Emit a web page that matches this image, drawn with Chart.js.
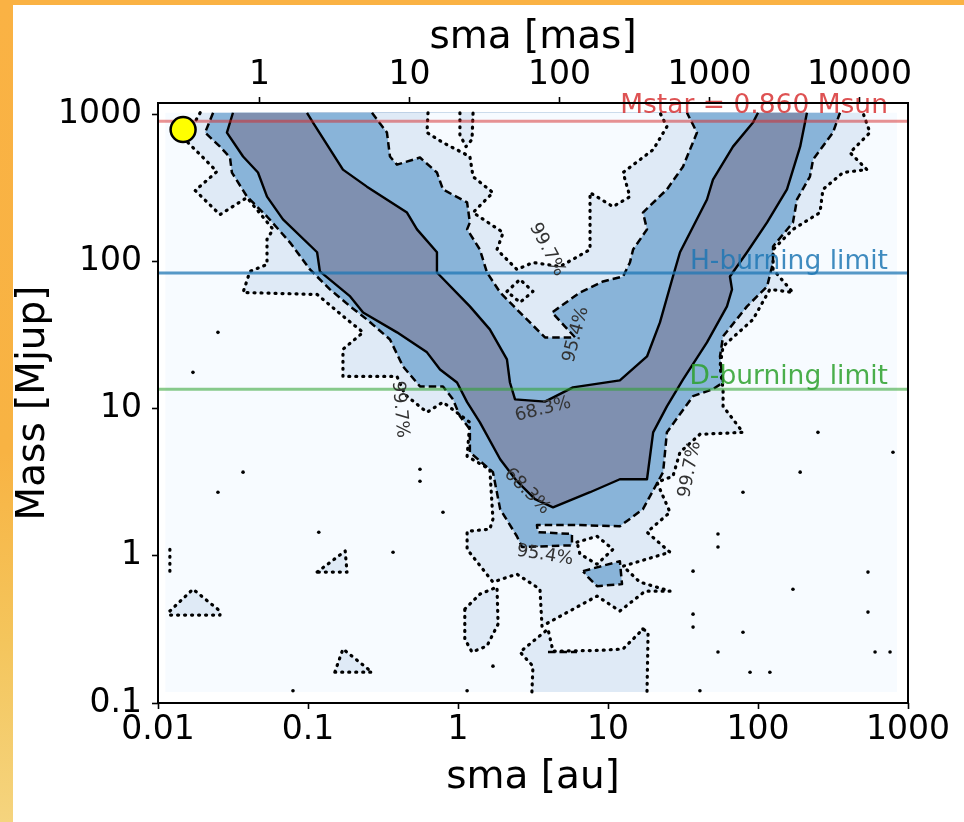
<!DOCTYPE html>
<html>
<head>
<meta charset="utf-8">
<script src="https://cdn.jsdelivr.net/npm/chart.js@4.4.1/dist/chart.umd.min.js"></script>
<style>
html,body{margin:0;padding:0;}
body{width:964px;height:822px;overflow:hidden;position:relative;
  background:linear-gradient(to bottom,#fab244 0%,#f8b343 55%,#f4c55c 78%,#f5d47e 100%);}
#panel{position:absolute;left:13px;top:5px;right:0;bottom:0;background:#fff;}
canvas{position:absolute;left:0;top:0;}
</style>
</head>
<body>
<div id="panel"></div>
<canvas id="chart" width="964" height="822"></canvas>
<script>
const FONT='"DejaVu Sans", sans-serif';

// axes
const smaMin=0.01, smaMax=1000;
const massMin=0.1, massMax=1200;
const distancePc=47.5;            // mas = au*1000/pc
const smaTicks=[0.01,0.1,1,10,100,1000];
const smaTickLabels=['0.01','0.1','1','10','100','1000'];
const masTicks=[1,10,100,1000,10000];
const masTickLabels=['1','10','100','1000','10000'];
const massTicks=[0.1,1,10,100,1000];
const massTickLabels=['0.1','1','10','100','1000'];

// reference masses [Mjup]
const mstarMjup=901;
const hBurningMjup=83.8;
const dBurningMjup=13.6;
const companionSma=[0.0147];
const companionMass=[791];

// extent of the probability map
const gridSma=[0.0112,845,845,0.0112];
const gridMass=[0.119,0.119,1030,1030];

// 68.3% contour (solid)
const c68OuterSma=[0.0316,0.0288,0.0369,0.0464,0.0533,0.0681,0.115,0.120,0.191,0.233,0.392,0.621,0.759,0.985,1.15,1.40,1.91,2.47,3.26,4.30,7.59,12.0,18.2,20.0,24.7,31.6,45.7,62.1,67.1,65.0,84.5,115,156,191,212];
const c68OuterMass=[1030,755,519,404,277,194,116,85.9,58.1,45.2,33.1,24.2,18.5,15.1,11.1,8.09,4.54,3.22,2.43,2.14,2.71,3.32,3.32,6.92,10.4,15.8,28.3,49.7,64.9,79.4,116,185,310,606,1030];
const c68InnerSma=[0.0985,0.108,0.171,0.247,0.457,0.533,0.724,0.724,1.20,1.63,2.12,2.22,2.40,3.80,5.84,12.0,18.2,22.2,27.1,30.2,45.7,50.1,68.1,92.6,100];
const c68InnerMass=[1030,883,423,324,216,166,116,84.5,49.7,34.7,21.7,15.1,11.6,11.2,14.0,15.6,22.7,38.7,79.4,116,265,362,606,883,1030];

// 95.4% contour (dashed)
const c95OuterSma=[0.0233,0.0206,0.0259,0.0302,0.0311,0.0392,0.0533,0.0759,0.103,0.140,0.191,0.247,0.352,0.430,0.558,0.794,0.926,1.03,1.20,1.20,1.71,1.91,2.47,2.67,5.75,5.75,3.41,3.36,6.50,12.0,17.1,23.3,24.7,36.9,50.1,58.5,55.8,58.5,84.5,115,126,126,171,182,222,233,316,352];
const c95OuterMass=[1030,755,606,511,404,277,203,135,88.6,64.9,49.7,40.5,29.6,19.4,14.2,14.2,11.6,8.89,7.26,5.07,3.71,2.08,1.36,1.15,1.18,1.41,1.45,1.62,1.62,1.59,2.08,3.71,6.92,12.2,13.6,15.1,22.7,31.1,49.7,67.9,98.8,127,185,265,379,495,755,1030];
const c95InnerSma=[0.267,0.336,0.352,0.392,0.558,0.724,0.794,1.15,1.20,1.15,1.40,1.56,1.91,2.47,3.80,6.03,4.24,6.50,9.26,12.6,14.0,14.7,18.2,17.1,24.7,31.6,39.2,33.6];
const c95InnerMass=[1030,755,519,457,511,404,310,253,185,166,121,84.5,61.8,47.4,30.6,30.6,45.2,61.8,73.4,79.4,98.8,121,166,216,310,443,755,1030];
const c95IslandSma=[6.81,12.0,12.4,8.45,7.36,6.81];
const c95IslandMass=[0.788,0.921,0.643,0.623,0.717,0.788];
const c95BitSma=[3.98,6.21];
const c95BitMass=[0.222,0.222];

// 99.7% contour (dotted)
const c997OuterSma=[0.0191,0.0151,0.0191,0.0247,0.0177,0.0259,0.0392,0.0585,0.0533,0.0533,0.0410,0.0369,0.115,0.182,0.233,0.171,0.171,0.392,0.443,0.621,0.794,1.20,1.15,1.63,1.71,1.63,1.15,1.15,1.71,2.47,3.52,3.63,8.45,12.0,17.7,25.9,16.3,12.6,25.9,18.2,25.9,21.2,27.1,30.2,41.0,79.4,58.5,58.5,55.8,58.5,92.6,120,171,126,126,171,259,271,369,533,410,558,501];
const c997OuterMass=[1030,677,535,410,305,209,273,166,142,95.8,85.9,61.8,59.9,40.5,33.1,25.4,16.6,16.6,12.5,9.47,11.1,8.09,4.76,3.88,1.78,1.52,1.47,1.11,0.664,0.752,0.594,0.333,0.533,0.422,0.576,0.576,0.664,0.851,1.06,1.45,1.98,3.17,3.48,5.07,6.71,6.92,10.4,13.6,19.4,26.6,40.5,64.9,61.8,88.6,121,166,216,310,404,423,552,755,1030];
const c997InnerSma=[0.631,0.621,0.794,1.20,1.26,1.71,1.26,2.00,1.82,2.47,3.16,4.79,7.59,7.59,10.8,14.0,12.6,20.0,24.7,22.2];
const c997InnerMass=[1030,755,646,519,379,295,216,158,121,88.6,98.8,92.8,121,295,237,277,404,578,829,1030];
const c997BottomSma=[3.11,3.16,2.59,3.98,4.30,8.84,12.6,17.1,18.5,18.2];
const c997BottomMass=[0.119,0.178,0.222,0.318,0.225,0.228,0.233,0.318,0.303,0.119];
const c997IslandASma=[1.11,1.40,1.82,1.85,1.56,1.24,1.11,1.11];
const c997IslandAMass=[0.435,0.55,0.614,0.344,0.244,0.222,0.272,0.435];
const c997TriLeftSma=[0.012,0.0171,0.0259,0.0259,0.012,0.012];
const c997TriLeftMass=[0.422,0.594,0.422,0.396,0.396,0.422];
const c997TriMidSma=[0.115,0.177,0.182,0.115];
const c997TriMidMass=[0.776,1.08,0.776,0.776];
const c997TriLowSma=[0.151,0.171,0.267,0.151];
const c997TriLowMass=[0.162,0.233,0.162,0.162];
const c997StripSma=[1.03,1.03,1.13,1.24,1.26];
const c997StripMass=[1030,731,606,677,1030];
const c997HoleASma=[2.12,2.59,3.16,2.59,2.12];
const c997HoleAMass=[62.8,75.8,62.8,52.9,62.8];
const c997HoleBSma=[6.21,8.45,10.8,8.45,6.50,6.21];
const c997HoleBMass=[1.24,1.36,1.11,0.879,1.03,1.24];
const c997EdgeSma=[0.012,0.012];
const c997EdgeMass=[1.11,0.75];
const dotSma=[0.0251,0.0171,0.0369,0.0251,0.118,0.369,0.794,0.558,0.558,0.0794,1.15,1.71,251,794,191,79.4,54.1,54.1,36.9,171,541,541,36.9,36.9,79.4,54.1,88.5,120,603,759,41.0,17.1];
const dotMass=[33.1,17.7,3.71,2.71,1.45,1.06,1.98,3.88,3.22,0.121,0.121,0.178,6.92,5.07,3.71,2.71,1.41,1.15,0.788,0.594,0.776,0.415,0.402,0.328,0.303,0.222,0.162,0.162,0.222,0.222,0.121,0.318];

// contour labels
const contourLabels=[
  {text:'99.7%',sma:3.92,mass:121,rot:62},
  {text:'95.4%',sma:6.12,mass:32,rot:-75},
  {text:'68.3%',sma:3.69,mass:9.9,rot:-14},
  {text:'99.7%',sma:0.41,mass:9.9,rot:85},
  {text:'68.3%',sma:2.88,mass:2.75,rot:45},
  {text:'95.4%',sma:3.8,mass:1.01,rot:9},
  {text:'99.7%',sma:35.2,mass:3.88,rot:-79}
];
const refLabels=[
  {text:'Mstar = 0.860 Msun',mass:mstarMjup,color:'rgba(214,39,40,0.8)',lift:8},
  {text:'H-burning limit',mass:hBurningMjup,color:'rgba(31,119,180,0.85)',lift:4},
  {text:'D-burning limit',mass:dBurningMjup,color:'rgba(44,160,44,0.85)',lift:5.5}
];
const refLabelSma=735;

const BG='#f7fbff', LIGHT='#dfeaf6', MEDIUM='#89b4d9', DARK='#7f90b0';
const SOLID={width:2.4,dash:[],cap:'butt'};
const DASHED={width:2.5,dash:[7.5,4],cap:'butt'};
const DOTTED={width:3.2,dash:[1,6],cap:'round'};

const pts=(xs,ys)=>xs.map((x,i)=>({x:x,y:ys[i]}));
function area(xs,ys,color,style){
  return {type:'line',data:pts(xs,ys),fill:color?'shape':false,
    backgroundColor:color||'rgba(0,0,0,0)',
    borderColor:style?'#000':'rgba(0,0,0,0)',
    borderWidth:style?style.width:1,borderDash:style?style.dash:[],
    borderCapStyle:style?style.cap:'butt',borderJoinStyle:'round',
    pointRadius:0,tension:0};
}
function hline(mass,color){
  return {type:'line',data:pts([smaMin,smaMax],[mass,mass]),borderColor:color,
    borderWidth:3,fill:false,pointRadius:0};
}

// bottom to top
const layers=[
  area(gridSma,gridMass,BG),
  area(c997TriLeftSma,c997TriLeftMass,LIGHT,DOTTED),
  area(c997TriMidSma,c997TriMidMass,LIGHT,DOTTED),
  area(c997TriLowSma,c997TriLowMass,LIGHT,DOTTED),
  area(c997IslandASma,c997IslandAMass,LIGHT,DOTTED),
  area(c997EdgeSma,c997EdgeMass,null,DOTTED),
  area(c997OuterSma,c997OuterMass,LIGHT,DOTTED),
  area(c997BottomSma,c997BottomMass,LIGHT,DOTTED),
  area(c997HoleASma,c997HoleAMass,BG,DOTTED),
  area(c997HoleBSma,c997HoleBMass,BG,DOTTED),
  area(c95OuterSma,c95OuterMass,MEDIUM,DASHED),
  area(c95IslandSma,c95IslandMass,MEDIUM,DASHED),
  area(c95BitSma,c95BitMass,null,DASHED),
  area(c68OuterSma,c68OuterMass,DARK,SOLID),
  area(c68InnerSma,c68InnerMass,MEDIUM,SOLID),
  area(c95InnerSma,c95InnerMass,LIGHT,DASHED),
  area(c997InnerSma,c997InnerMass,BG,DOTTED),
  area(c997StripSma,c997StripMass,LIGHT,DOTTED),
  {type:'scatter',data:pts(dotSma,dotMass),pointRadius:1.8,backgroundColor:'#000',borderWidth:0},
  hline(mstarMjup,'rgba(214,39,40,0.5)'),
  hline(hBurningMjup,'rgba(31,119,180,0.75)'),
  hline(dBurningMjup,'rgba(44,160,44,0.55)'),
  {type:'scatter',data:pts(companionSma,companionMass),pointRadius:12.5,
    backgroundColor:'#ffff00',borderColor:'#000',borderWidth:2.5}
];
layers.forEach((d,i)=>{d.order=layers.length-i;});

const tickFont={family:FONT,size:33,lineHeight:1};
const titleFont={family:FONT,size:39,lineHeight:1.2};
const tickGrid={drawOnChartArea:false,drawTicks:true,tickLength:6,tickWidth:1.6,tickColor:'#000'};

const overlay={
  id:'overlay',
  afterDatasetsDraw(chart){
    const {ctx,scales:{x,y}}=chart;
    ctx.save();
    ctx.font='26.5px '+FONT;
    ctx.textAlign='right';
    ctx.textBaseline='alphabetic';
    refLabels.forEach(l=>{
      ctx.fillStyle=l.color;
      ctx.fillText(l.text,x.getPixelForValue(refLabelSma),y.getPixelForValue(l.mass)-l.lift);
    });
    ctx.font='18px '+FONT;
    ctx.textAlign='center';
    ctx.textBaseline='middle';
    ctx.fillStyle='#333';
    contourLabels.forEach(l=>{
      ctx.save();
      ctx.translate(x.getPixelForValue(l.sma),y.getPixelForValue(l.mass));
      ctx.rotate(l.rot*Math.PI/180);
      ctx.fillText(l.text,0,0);
      ctx.restore();
    });
    ctx.restore();
  },
  afterDraw(chart){
    const {ctx,chartArea:a}=chart;
    ctx.save();
    ctx.strokeStyle='#000';
    ctx.lineWidth=2;
    ctx.strokeRect(a.left,a.top,a.right-a.left,a.bottom-a.top);
    ctx.restore();
  }
};

new Chart(document.getElementById('chart'),{
  type:'scatter',
  data:{datasets:layers},
  options:{
    responsive:false,animation:false,devicePixelRatio:1,
    layout:{padding:{left:0,right:56,top:0,bottom:0}},
    plugins:{legend:{display:false},tooltip:{enabled:false},filler:{drawTime:'beforeDatasetsDraw'}},
    scales:{
      x:{type:'logarithmic',position:'bottom',min:smaMin,max:smaMax,
        afterBuildTicks:s=>{s.ticks=smaTicks.map(v=>({value:v}));},
        afterFit:s=>{s.height=119;},
        ticks:{callback:(v,i)=>smaTickLabels[i],font:tickFont,color:'#000',padding:4.5,autoSkip:false,maxRotation:0,minRotation:0},
        grid:tickGrid,border:{display:false},
        title:{display:true,text:'sma [au]',font:titleFont,color:'#000',padding:{top:0,bottom:21}}},
      x2:{type:'logarithmic',axis:'x',position:'top',
        min:smaMin*1000/distancePc,max:smaMax*1000/distancePc,
        afterBuildTicks:s=>{s.ticks=masTicks.map(v=>({value:v}));},
        afterFit:s=>{s.height=103;},
        ticks:{callback:(v,i)=>masTickLabels[i],font:tickFont,color:'#000',padding:5,autoSkip:false,maxRotation:0,minRotation:0},
        grid:tickGrid,border:{display:false},
        title:{display:true,text:'sma [mas]',font:titleFont,color:'#000',padding:{top:14,bottom:0}}},
      y:{type:'logarithmic',position:'left',min:massMin,max:massMax,
        afterBuildTicks:s=>{s.ticks=massTicks.map(v=>({value:v}));},
        afterFit:s=>{s.width=158;},
        ticks:{callback:(v,i)=>massTickLabels[i],font:tickFont,color:'#000',padding:10,autoSkip:false},
        grid:tickGrid,border:{display:false},
        title:{display:true,text:'Mass [Mjup]',font:titleFont,color:'#000',padding:{top:10,bottom:0}}}
    }
  },
  plugins:[overlay]
});
</script>
</body>
</html>
